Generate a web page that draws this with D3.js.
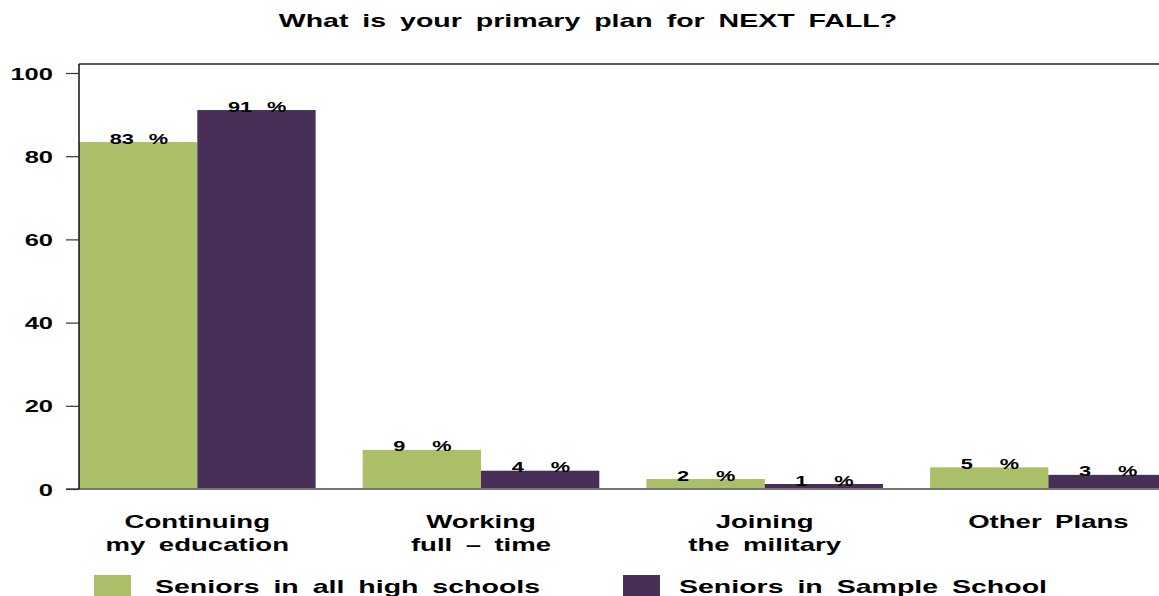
<!DOCTYPE html>
<html><head><meta charset="utf-8">
<script src="https://cdn.jsdelivr.net/npm/d3@7"></script>
<style>body{margin:0;background:#fff}svg{display:block}text{font-family:"Liberation Sans",Arial,sans-serif;font-weight:bold;fill:#000}</style>
</head><body>
<svg id="c" width="1159" height="596"></svg>
<script>
const categories = [["Continuing","my education"],["Working","full – time"],["Joining","the military"],["Other Plans"]];
const seriesNames = ["Seniors in all high schools","Seniors in Sample School"];
const allSchools = [83.4, 9.4, 2.4, 5.2];
const sampleSchool = [91.1, 4.4, 1.2, 3.4];
const yTicks = [0,20,40,60,80,100];
const title = "What is your primary plan for NEXT FALL?";
const colors = ["#abbe68","#472f58"];

(function(){
const W=1159, mLeft=79, mTop=64, mBottom=489;
const svg=d3.select("#c");
function stretch(sel,k){sel.each(function(){const n=this.getComputedTextLength();d3.select(this).attr("textLength",n*k).attr("lengthAdjust","spacingAndGlyphs");});}

const cats=categories.map(c=>c.join(" "));
const x=d3.scaleBand().domain(cats).range([mLeft,mLeft+283.7*3.834]).paddingInner(0.166).paddingOuter(0);
const xs=d3.scaleBand().domain([0,1]).range([0,x.bandwidth()]);
const y=d3.scaleLinear().domain([0,100]).range([mBottom,73]);

const g=svg.append("g");
const data=cats.map((c,i)=>({c,vals:[allSchools[i],sampleSchool[i]]}));
data.forEach(d=>{
  d.vals.forEach((v,j)=>{
    g.append("rect").attr("x",x(d.c)+xs(j)).attr("y",y(v)).attr("width",xs.bandwidth()).attr("height",y(0)-y(v)).attr("fill",colors[j]);
  });
});
data.forEach(d=>{
  d.vals.forEach((v,j)=>{
    const cx=x(d.c)+xs(j)+xs.bandwidth()/2;
    const t1=svg.append("text").attr("x",cx-28.5).attr("y",y(v)+1.5).attr("font-size",15).text(Math.round(v));
    stretch(t1,1.45);
    const t2=svg.append("text").attr("x",cx+10.5).attr("y",y(v)+1.5).attr("font-size",15).text("%");
    stretch(t2,1.45);
  });
});

svg.append("line").attr("x1",66).attr("x2",W).attr("y1",y(0)).attr("y2",y(0)).attr("stroke","#777").attr("stroke-width",2);
svg.append("line").attr("x1",mLeft).attr("x2",W).attr("y1",mTop).attr("y2",mTop).attr("stroke","#222").attr("stroke-width",1.5);
svg.append("line").attr("x1",mLeft).attr("x2",mLeft).attr("y1",mTop).attr("y2",mBottom).attr("stroke","#111").attr("stroke-width",1.5);
const ya=svg.append("g").attr("transform",`translate(${mLeft},0)`).call(d3.axisLeft(y).tickValues(yTicks).tickSize(13).tickPadding(4));
ya.select(".domain").remove();
ya.selectAll(".tick line").attr("stroke","#333").attr("stroke-width",1.2);
ya.attr("font-family",null).attr("font-size",null);
ya.selectAll(".tick text").attr("font-size",17).attr("dy","0.36em").attr("x",-26).attr("fill","#000");
stretch(ya.selectAll(".tick text"),1.5);

categories.forEach((lines,i)=>{
  const cx=x(cats[i])+x.bandwidth()/2;
  lines.forEach((ln,k)=>{
    const t=svg.append("text").attr("x",cx).attr("y",528+k*23).attr("font-size",19).attr("word-spacing",4).attr("text-anchor","middle").text(ln);
    stretch(t,1.45);
  });
});

const tt=svg.append("text").attr("x",588).attr("y",27).attr("font-size",19).attr("word-spacing",4).attr("text-anchor","middle").text(title);
stretch(tt,1.5);

const legX=[94,623], legT=[155,679];
seriesNames.forEach((s,j)=>{
  svg.append("rect").attr("x",legX[j]).attr("y",575).attr("width",37).attr("height",22).attr("fill",colors[j]);
  const t=svg.append("text").attr("x",legT[j]).attr("y",593).attr("font-size",19).attr("word-spacing",4).text(s);
  stretch(t,1.5);
});
})();
</script>
</body></html>
